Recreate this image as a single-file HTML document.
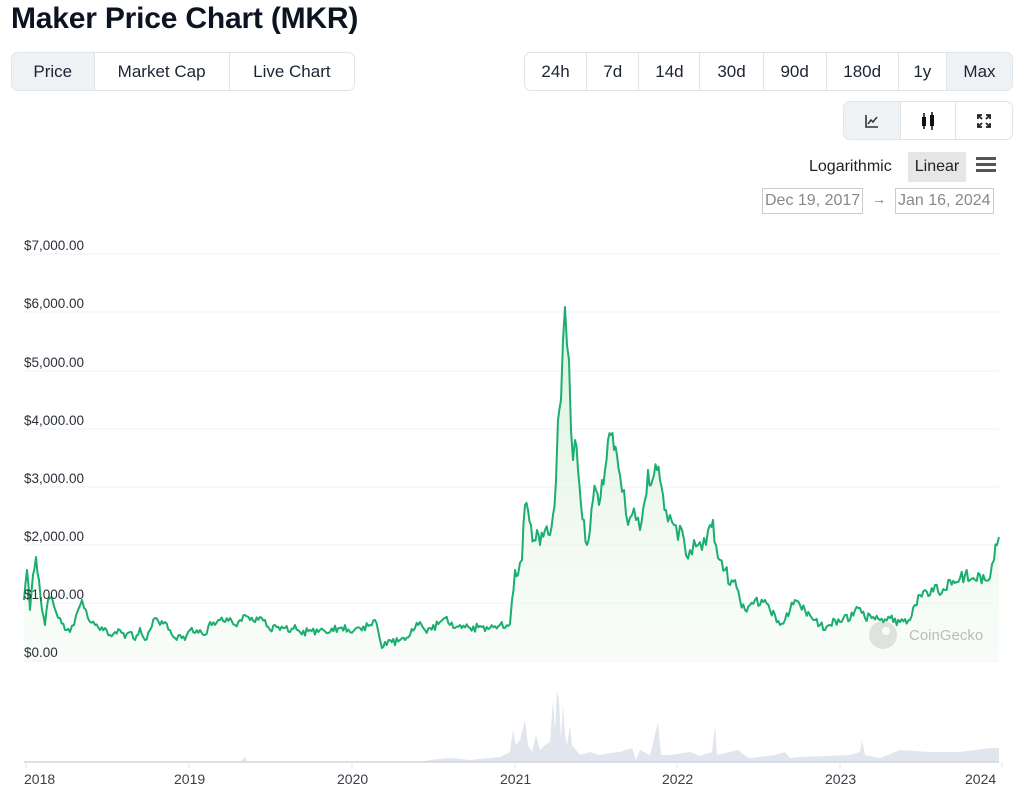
<!DOCTYPE html>
<html><head><meta charset="utf-8"><style>
body{margin:0;width:1024px;height:796px;background:#fff;font-family:"Liberation Sans",sans-serif;position:relative;overflow:hidden;color:#111}
h1{position:absolute;left:11px;top:2px;margin:0;font-size:30px;font-weight:bold;letter-spacing:-0.2px;color:#0d1421}
.grp{position:absolute;display:flex;border:1px solid #dfe3ea;border-radius:7px;overflow:hidden;height:37px}
.grp div{display:flex;align-items:center;justify-content:center;font-size:17px;color:#1c2333;border-left:1px solid #dfe3ea}
.grp div:first-child{border-left:none}
.sel{background:#eff2f5}
.yl{position:absolute;left:24px;font-size:13.5px;color:#2a2f3a}
.xl{position:absolute;top:771px;font-size:14px;color:#3a3f4a}
.date{position:absolute;top:188px;height:24px;border:1px solid #ccc;font-size:16px;color:#888;display:flex;align-items:center;padding:0 2px}
</style></head><body>
<h1>Maker Price Chart (MKR)</h1>
<div class="grp" style="left:11px;top:52px;width:342px">
<div class="sel" style="width:82px">Price</div><div style="width:135px">Market Cap</div><div style="width:125px">Live Chart</div></div>
<div class="grp" style="left:524px;top:52px;width:487px">
<div style="width:62px">24h</div><div style="width:52px">7d</div><div style="width:61px">14d</div><div style="width:63px">30d</div><div style="width:63px">90d</div><div style="width:72px">180d</div><div style="width:48px">1y</div><div class="sel" style="width:66px">Max</div></div>
<div class="grp" style="left:843px;top:101px;width:168px">
<div class="sel" style="width:56px"><svg width="16" height="16"><path d="M2 2V14H14" stroke="#333" fill="none" stroke-width="1.6"/><path d="M4 11L7 7L9 9L13 4" stroke="#333" fill="none" stroke-width="1.5"/></svg></div>
<div style="width:54px"><svg width="18" height="22"><rect x="3" y="7" width="4" height="9" fill="#111"/><line x1="5" y1="3" x2="5" y2="19" stroke="#111" stroke-width="1.5"/><rect x="11" y="5" width="4" height="11" fill="#111"/><line x1="13" y1="2" x2="13" y2="20" stroke="#111" stroke-width="1.5"/></svg></div>
<div style="width:56px"><svg width="16" height="16" fill="none" stroke="#222" stroke-width="1.8"><path d="M2 6V2H6M10 2H14V6M14 10V14H10M6 14H2V10M2 2L6 6M14 2L10 6M14 14L10 10M2 14L6 10"/></svg></div></div>
<div style="position:absolute;left:809px;top:158px;font-size:16px;color:#222">Logarithmic</div>
<div style="position:absolute;left:908px;top:152px;width:58px;height:30px;background:#e6e6e6;font-size:16px;display:flex;align-items:center;justify-content:center;color:#222">Linear</div>
<div style="position:absolute;left:976px;top:157px;width:20px"><div style="height:3px;background:#555;margin-bottom:3px"></div><div style="height:3px;background:#555;margin-bottom:3px"></div><div style="height:3px;background:#555"></div></div>
<div class="date" style="left:762px">Dec 19, 2017</div>
<div style="position:absolute;left:872px;top:191px;color:#777;font-size:14px">→</div>
<div class="date" style="left:895px">Jan 16, 2024</div>

<svg style="position:absolute;left:0;top:0" width="1024" height="796">
<defs><linearGradient id="g" x1="0" y1="0" x2="0" y2="1"><stop offset="0" stop-color="#d4efd5" stop-opacity="0.8"/><stop offset="1" stop-color="#f3faf3" stop-opacity="0.5"/></linearGradient></defs>
<g stroke="#eef0f3" stroke-width="1">
<line x1="24" y1="254" x2="999" y2="254"/><line x1="24" y1="312" x2="999" y2="312"/><line x1="24" y1="371" x2="999" y2="371"/><line x1="24" y1="429" x2="999" y2="429"/><line x1="24" y1="487" x2="999" y2="487"/><line x1="24" y1="545" x2="999" y2="545"/><line x1="24" y1="603" x2="999" y2="603"/><line x1="24" y1="661" x2="999" y2="661"/>
</g>
<g stroke="#e1e4ea"><line x1="26" y1="762" x2="26" y2="768"/><line x1="189" y1="762" x2="189" y2="768"/><line x1="352" y1="762" x2="352" y2="768"/><line x1="515" y1="762" x2="515" y2="768"/><line x1="677" y1="762" x2="677" y2="768"/><line x1="840" y1="762" x2="840" y2="768"/><line x1="1002" y1="762" x2="1002" y2="768"/></g>
<polygon fill="#c8d0e0" opacity="0.55" points="24,762 240,762 245,757 247,762 420,762 430,760 450,758 470,760 500,757 510,752 513,730 516,745 520,740 525,720 528,745 532,752 536,735 540,750 545,745 550,742 553,700 555,730 557,690 559,700 561,740 563,705 565,735 567,745 570,725 572,745 576,750 580,755 590,752 600,755 610,753 620,752 632,748 636,760 640,750 650,755 658,722 661,755 670,755 690,752 700,756 712,752 715,725 717,755 730,752 738,750 744,755 750,758 775,755 785,752 790,758 800,757 850,755 860,752 862,740 865,755 880,758 900,750 930,752 960,752 990,748 999,748 999,762"/>
<line x1="24" y1="762" x2="999" y2="762" stroke="#d0d5df" stroke-width="1.5"/>
<g id="c"></g>
<g transform="translate(883,635)" opacity="0.25"><circle r="14" fill="#999"/><circle cx="3" cy="-4" r="4" fill="#fff"/></g>
<text x="909" y="640" font-size="15" fill="#bbb" font-family="Liberation Sans">CoinGecko</text>
</svg>
<div class="yl" style="top:238px">$7,000.00</div><div class="yl" style="top:296px">$6,000.00</div><div class="yl" style="top:355px">$5,000.00</div><div class="yl" style="top:413px">$4,000.00</div><div class="yl" style="top:471px">$3,000.00</div><div class="yl" style="top:529px">$2,000.00</div><div class="yl" style="top:587px">$1,000.00</div><div class="yl" style="top:645px">$0.00</div>
<div class="xl" style="left:24px">2018</div><div class="xl" style="left:174px">2019</div><div class="xl" style="left:337px">2020</div><div class="xl" style="left:500px">2021</div><div class="xl" style="left:662px">2022</div><div class="xl" style="left:825px">2023</div><div class="xl" style="left:965px">2024</div>
<script>
var p="24,600 27,570 30,610 33,575 36,557 39,580 42,610 45,625 48,600 52,598 56,612 60,618 65,630 70,632 74,625 78,610 82,600 86,610 90,622 95,625 100,630 105,628 110,635 115,632 120,630 125,638 130,632 135,640 140,628 145,640 150,630 155,618 160,625 165,622 170,630 175,638 180,635 185,640 190,630 195,633 200,630 205,635 210,622 215,625 220,620 225,622 230,618 235,625 240,620 245,615 250,620 255,622 260,617 265,620 270,630 275,625 280,630 285,628 290,632 295,625 300,632 310,630 320,630 330,632 340,628 350,632 360,628 370,625 375,620 378,630 380,640 382,648 385,642 390,640 400,640 410,635 415,628 420,622 425,630 430,628 440,622 445,618 450,625 455,628 460,625 470,628 480,626 490,628 500,625 505,628 510,624 512,600 515,570 518,575 522,560 525,505 528,510 531,525 534,540 537,530 540,545 545,530 550,535 553,515 556,480 558,420 561,400 563,340 565,307 567,345 569,360 571,430 573,460 575,440 578,470 581,505 584,520 587,545 590,530 593,500 596,490 599,505 602,480 605,470 608,440 611,435 614,450 617,455 620,475 624,490 628,525 632,515 636,520 640,530 645,500 648,470 651,485 654,475 657,470 660,480 663,495 666,510 670,515 674,525 678,540 682,530 686,555 690,550 694,540 698,545 702,550 706,545 710,525 713,520 716,545 720,560 725,570 730,585 735,580 740,600 745,610 750,605 755,600 760,605 765,600 770,610 775,615 780,625 785,620 790,610 795,600 800,605 805,610 810,615 815,620 820,625 825,630 830,625 835,620 840,622 845,615 850,620 855,610 860,608 865,618 870,615 880,620 890,618 900,622 910,620 915,605 920,595 925,590 930,595 935,585 940,595 945,590 950,580 955,583 960,578 965,575 970,580 975,580 980,575 985,580 990,578 994,560 997,545 999,537";
var pts=p.split(" ").map(function(s){return s.split(",").map(Number)});
var out=[];for(var i=0;i<pts.length-1;i++){var a=pts[i],b=pts[i+1];out.push(a);var n=Math.floor((b[0]-a[0])/1.5);for(var k=1;k<n;k++){var t=k/n;var j=(Math.sin(i*7.3+k*3.1)*0.6+Math.sin(k*11.7+i)*0.4)*(6*(1-Math.abs(t-0.5)));out.push([a[0]+(b[0]-a[0])*t,a[1]+(b[1]-a[1])*t+j*(a[1]<580?1.6:0.9)]);}}out.push(pts[pts.length-1]);
var s=out.map(function(q){return q[0].toFixed(1)+","+q[1].toFixed(1)}).join(" ");
var ns="http://www.w3.org/2000/svg",g=document.getElementById("c");
var pg=document.createElementNS(ns,"polygon");pg.setAttribute("points","24,661 "+s+" 999,661");pg.setAttribute("fill","url(#g)");g.appendChild(pg);
var pl=document.createElementNS(ns,"polyline");pl.setAttribute("points",s);pl.setAttribute("fill","none");pl.setAttribute("stroke","#1aae6f");pl.setAttribute("stroke-width","2");pl.setAttribute("stroke-linejoin","round");g.appendChild(pl);
</script>
</body></html>
